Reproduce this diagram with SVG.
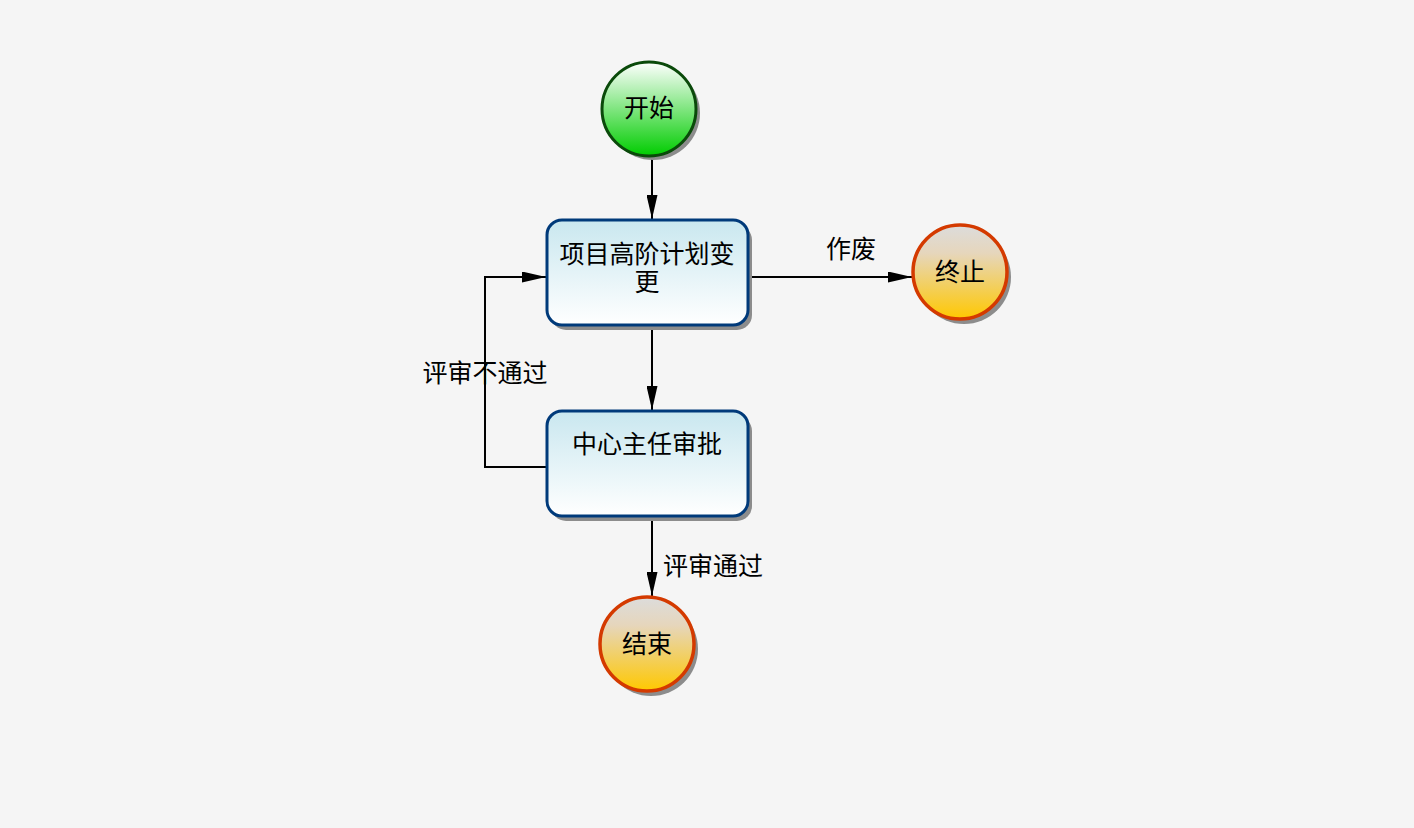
<svg xmlns="http://www.w3.org/2000/svg" width="1414" height="828" viewBox="0 0 1414 828">
  <defs>
    <linearGradient id="gStart" x1="0" y1="0" x2="0" y2="1">
      <stop offset="0" stop-color="#ffffff"/>
      <stop offset="1" stop-color="#00cc00"/>
    </linearGradient>
    <linearGradient id="gStop" x1="0" y1="0" x2="0" y2="1">
      <stop offset="0" stop-color="#dcdcdc"/>
      <stop offset="0.3" stop-color="#e6d6bc"/>
      <stop offset="1" stop-color="#ffc800"/>
    </linearGradient>
    <linearGradient id="gTask" x1="0" y1="0" x2="0" y2="1">
      <stop offset="0" stop-color="#c9e7ef"/>
      <stop offset="1" stop-color="#ffffff"/>
    </linearGradient>
    <marker id="arrow" viewBox="0 0 24 11" refX="24" refY="5.5" markerWidth="24" markerHeight="11" markerUnits="userSpaceOnUse" orient="auto">
      <path d="M0,0 L24,5.5 L0,11 Z" fill="#000"/>
    </marker>
  </defs>
  <style>
    text { font-family: "Noto Sans CJK SC", "Noto Sans", sans-serif; font-size: 25px; fill: #000; text-anchor: middle; }
    .shadow { fill: #8c8c8c; }
    .task { fill: url(#gTask); stroke: #003a7a; stroke-width: 3; }
    .start { fill: url(#gStart); stroke: #0a4a0a; stroke-width: 3; }
    .stop { fill: url(#gStop); stroke: #d43a00; stroke-width: 3.5; }
    .edge { fill: none; stroke: #000; stroke-width: 2; marker-end: url(#arrow); }
  </style>
  <rect width="1414" height="828" fill="#f5f5f5"/>

  <g id="connectors">
    <path class="edge" d="M652,158 L652,219"/>
    <path class="edge" d="M652,327 L652,410"/>
    <path class="edge" d="M652,518 L652,596"/>
    <path class="edge" d="M749,277 L912,277"/>
    <path class="edge" d="M547,467 L485,467 L485,277 L546,277"/>
    <text x="851" y="258">作废</text>
    <text x="485" y="382">评审不通过</text>
    <text x="713" y="575">评审通过</text>
  </g>

  <g id="start">
    <circle class="shadow" cx="653" cy="113" r="47"/>
    <circle class="start" cx="649" cy="109" r="47"/>
    <text x="649" y="117">开始</text>
  </g>

  <g id="task-change">
    <rect class="shadow" x="551" y="225" width="201" height="105" rx="15"/>
    <rect class="task" x="547" y="220" width="201" height="105" rx="15"/>
    <text x="647" y="263">项目高阶计划变<tspan x="647" dy="28">更</tspan></text>
  </g>

  <g id="task-approve">
    <rect class="shadow" x="551" y="416" width="201" height="105" rx="15"/>
    <rect class="task" x="547" y="411" width="201" height="105" rx="15"/>
    <text x="647" y="453">中心主任审批</text>
  </g>

  <g id="terminate">
    <circle class="shadow" cx="964" cy="277" r="47"/>
    <circle class="stop" cx="960" cy="272" r="47"/>
    <text x="960" y="281">终止</text>
  </g>

  <g id="end">
    <circle class="shadow" cx="651" cy="649" r="47"/>
    <circle class="stop" cx="647" cy="644" r="47"/>
    <text x="647" y="653">结束</text>
  </g>
</svg>
